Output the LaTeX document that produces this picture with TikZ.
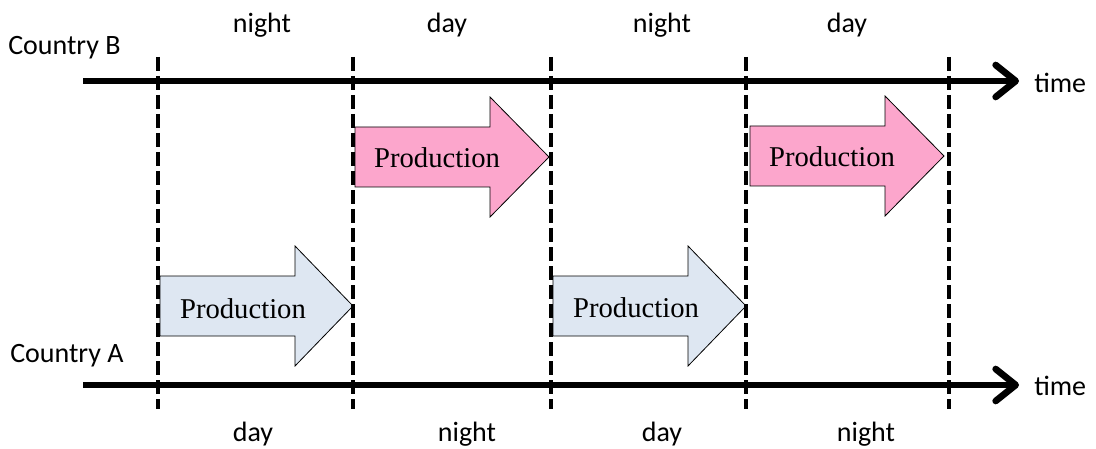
\documentclass[tikz,border=0pt]{standalone}
\usepackage{fontspec}
\setmainfont{Carlito}
\newfontfamily\prodfont{Liberation Serif}
\usetikzlibrary{arrows.meta}

\definecolor{prodpink}{RGB}{252,166,204}
\definecolor{prodblue}{RGB}{222,231,242}

\tikzset{
  axisline/.style={line width=5pt, -{Straight Barb[length=15pt, width=24pt, line cap=round, line join=round]}},
  boundary/.style={line width=3pt, dash pattern=on 10.5pt off 3.75pt},
  period/.style={font=\fontsize{21}{25}\selectfont, inner sep=0pt},
  country/.style={font=\fontsize{21}{25}\selectfont, inner sep=0pt, anchor=west},
  prodshape/.style={draw=black, line width=0.6pt, line join=miter},
  prodtext/.style={font=\prodfont\fontsize{21.5}{26}\selectfont, inner sep=0pt},
}

\begin{document}
\begin{tikzpicture}[x=0.75pt, y=-0.75pt]
\useasboundingbox (0,0) rectangle (1096,449);

% production arrows, Country B (pink)
\foreach \x/\yc in {355/157, 750/156}{
  \filldraw[prodshape, fill=prodpink]
    (\x,\yc-30) -- (\x+135,\yc-30) -- (\x+135,\yc-60) -- (\x+194,\yc)
    -- (\x+135,\yc+60) -- (\x+135,\yc+30) -- (\x,\yc+30) -- cycle;
}
% production arrows, Country A (blue)
\foreach \x/\yc in {160/306, 553/306}{
  \filldraw[prodshape, fill=prodblue]
    (\x,\yc-30) -- (\x+135,\yc-30) -- (\x+135,\yc-60) -- (\x+193,\yc)
    -- (\x+135,\yc+60) -- (\x+135,\yc+30) -- (\x,\yc+30) -- cycle;
}
\node[prodtext] (pb1) at (437,158) {Production};
\node[prodtext] (pb2) at (832,157) {Production};
\node[prodtext] (pa1) at (243,309) {Production};
\node[prodtext] (pa2) at (636,308) {Production};

% time axes
\coordinate (bstart) at (83,81);
\coordinate (bend)   at (1019,81);
\coordinate (astart) at (83,385);
\coordinate (aend)   at (1019,385);
\draw[axisline] (bstart) -- (bend);
\draw[axisline] (astart) -- (aend);

% period boundaries
\foreach \x [count=\i] in {158,353,551,746,949}{
  \coordinate (top\i) at (\x,57);
  \coordinate (bot\i) at (\x,409);
  \draw[boundary] (top\i) -- (bot\i);
}

% labels
\node[country] (cb) at (8,48) {Country B};
\node[country] (ca) at (10,356) {Country A};
\node[period, anchor=west] (tb) at (1034,83) {time};
\node[period, anchor=west] (ta) at (1034,386) {time};

\node[period] (n1) at (262,25) {night};
\node[period] (d1) at (447,25) {day};
\node[period] (n2) at (662,25) {night};
\node[period] (d2) at (847,25) {day};

\node[period] (d3) at (253,434) {day};
\node[period] (n3) at (467,434) {night};
\node[period] (d4) at (662,434) {day};
\node[period] (n4) at (866,434) {night};
\end{tikzpicture}
\end{document}
